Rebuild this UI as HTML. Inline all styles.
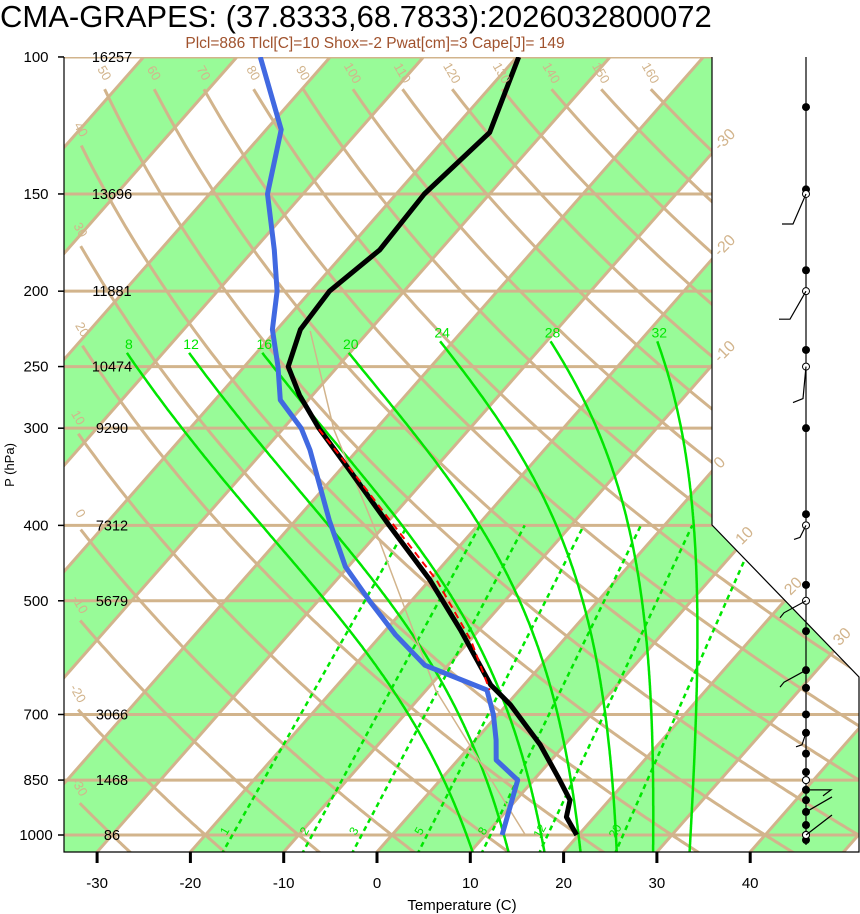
<!DOCTYPE html>
<html><head><meta charset="utf-8"><style>
html,body{margin:0;padding:0;background:#fff;}
svg{display:block;font-family:"Liberation Sans",sans-serif;}
</style></head><body>
<svg id="chart" width="860" height="914" viewBox="0 0 860 914" xmlns="http://www.w3.org/2000/svg">
<defs><clipPath id="plotclip"><polygon points="64,57 712,57 712,525 859,677 859,852 64,852"/></clipPath></defs>
<text x="0" y="27" font-size="31">CMA-GRAPES: (37.8333,68.7833):2026032800072</text>
<text x="375" y="48" font-size="15.5" fill="#a0522d" text-anchor="middle">Plcl=886 Tlcl[C]=10 Shox=-2 Pwat[cm]=3 Cape[J]= 149</text>
<g id="plot" clip-path="url(#plotclip)"></g>
<g id="over"></g>
<polyline points="64,57 64,852 859,852 859,677 712,525 712,57" fill="none" stroke="#000" stroke-width="1.2"/>
<text x="14" y="465" font-size="13" text-anchor="middle" transform="rotate(-90 14 465)">P (hPa)</text>
<text x="462" y="910" font-size="15" text-anchor="middle">Temperature (C)</text>
</svg>
<script>
// ---- data ----
const pLevels=[100,150,200,250,300,400,500,700,850,1000];
const heights=[16257,13696,11881,10474,9290,7312,5679,3066,1468,86];
const tempTicks=[-30,-20,-10,0,10,20,30,40];
const thetaVals=[-30,-20,-10,0,10,20,30,40,50,60,70,80,90,100,110,120,130,140,150,160];
const moistVals=[8,12,16,20,24,28,32];
const mixVals=[1,2,3,5,8,12,20];
const sndP=[100,125,150,177,200,224,250,272,300,340,400,470,545,641,680,766,850,902,948,1000];
const sndT=[-59.8,-55.8,-57.0,-56.5,-58.0,-57.5,-55.3,-51.4,-46.2,-38.9,-29.5,-20.0,-12.0,-3.6,0.4,7.4,12.8,15.8,17.0,19.8];
const dewP=[100,124,150,177,200,224,250,276,300,320,394,452,500,553,605,651,700,755,801,850,1000];
const dewT=[-87.5,-78.4,-73.8,-67.8,-63.6,-60.5,-56.4,-53.0,-48.1,-45.1,-36.4,-30.3,-24.5,-18.5,-12.5,-3.5,-0.5,2.2,4.1,8.3,11.8];
const parP=[301,340,400,470,562,651];
const parT=[-46.1,-38.7,-29.0,-19.3,-9.9,-3.2];
const pathP=[225,301,405,651,1000];
const pathT=[-56.3,-44.5,-30.6,-9.0,14.3];
const windDotP=[116,148,188,238,300,387,477,547,614,647,700,739,786,830,850,875,902,934,971,1000,1015];
const windOpenP=[150,200,250,400,500,850,1000];

// ---- axes ----
const NS="http://www.w3.org/2000/svg";
function yP(p){return 835-337.9*Math.log(1000/p);}
function xT(T,p){return 377+9.33*T+0.88*(852-yP(p));}
function mk(parent,tag,attrs){const e=document.createElementNS(NS,tag);for(const k in attrs)e.setAttribute(k,attrs[k]);parent.appendChild(e);return e;}
const plot=document.getElementById('plot');
const over=document.getElementById('over');
const svg=document.getElementById('chart');
const TAN="#d2b48c",GRN="#00e600";

const gBands=mk(plot,'g',{});


for(let T=-140;T<=60;T+=20){
  const pol=mk(gBands,'polygon',{points:[[xT(T,100),yP(100)],[xT(T+10,100),yP(100)],[xT(T+10,1060),yP(1060)],[xT(T,1060),yP(1060)]].map(a=>a.join(',')).join(' '),fill:'#98fb98'});
  
  
}
for(let T=-140;T<=60;T+=10){
  const l=mk(plot,'line',{x1:xT(T,100),y1:yP(100),x2:xT(T,1060),y2:yP(1060),stroke:TAN,'stroke-width':3});
  
  
}
pLevels.forEach((p,i)=>{
  const l=mk(plot,'line',{x1:64,y1:yP(p),x2:860,y2:yP(p),stroke:TAN,'stroke-width':3});
  
  
  const t=mk(svg,'text',{x:36,y:yP(p)+5,'font-size':15,'text-anchor':'middle'});t.textContent=p;
  
  
  const h=mk(svg,'text',{x:112,y:yP(p)+5,'font-size':14.5,'text-anchor':'middle'});h.textContent=heights[i];
  
  
  mk(svg,'line',{x1:58,y1:yP(p),x2:64,y2:yP(p),stroke:'#000','stroke-width':1.5});
});
thetaVals.forEach(th=>{
  let pts=[],start=null;
  for(let p=110;p<=1060;p+=5){
    const T=(th+273.15)*Math.pow(p/1000,0.2857)-273.15;
    const x=xT(T,p),y=yP(p);
    if(x<78)continue;
    if(!start)start=[x,y];
    pts.push(x.toFixed(1)+','+y.toFixed(1));
  }
  if(pts.length<2)return;
  const l=mk(plot,'polyline',{points:pts.join(' '),fill:'none',stroke:TAN,'stroke-width':3});
  
  
  if(start[0]<700){
    const lx=start[0]-4,ly=start[1]-14;
    const t=mk(svg,'text',{x:lx,y:ly,'font-size':13,fill:TAN,'text-anchor':'middle',transform:`rotate(60 ${lx} ${ly})`});t.textContent=th;
    
    
  }
});
[-30,-20,-10,0].forEach(T=>{
  const y=852-(712-377-9.33*T)/0.88;
  const t=mk(svg,'text',{x:720,y:y-2,'font-size':16,fill:TAN,transform:`rotate(-45 720 ${y-2})`});t.textContent=T;
  
  
});
[10,20,30].forEach(T=>{
  let best=null;
  for(let y=525;y<=677;y+=0.5){const xe=712+(y-525)*147/152;const xi=377+9.33*T+0.88*(852-y);if(Math.abs(xe-xi)<1){best=[xe,y];break;}}
  if(!best)return;
  const t=mk(svg,'text',{x:best[0]+6,y:best[1]-4,'font-size':16,fill:TAN,transform:`rotate(-45 ${best[0]+6} ${best[1]-4})`});t.textContent=T;
  
  
});
function es(T){return 6.112*Math.exp(17.67*T/(T+243.5));}
function slope(T,p){const Tk=T+273.15,e=es(T),rs=0.622*e/(p-e);return (287*Tk+2.5e6*rs)/(p*(1004+2.5e6*2.5e6*rs*0.622/(287*Tk*Tk)));}
moistVals.forEach(tw=>{
  let up=[],T=tw;
  const ptop=tw<=20?240:232;
  for(let p=1000;p>=ptop;p-=2){up.push([xT(T,p),yP(p)]);T-=slope(T,p)*2;}
  let dn=[];T=tw;
  for(let p=1000;p<=1060;p+=2){T+=slope(T,p)*2;dn.push([xT(T,p+2),yP(p+2)]);}
  const pts=up.reverse().concat(dn);
  const l=mk(plot,'polyline',{points:pts.map(a=>a[0].toFixed(1)+','+a[1].toFixed(1)).join(' '),fill:'none',stroke:GRN,'stroke-width':2.5});
  
  
  const t=mk(svg,'text',{x:pts[0][0]+2,y:pts[0][1]-4,'font-size':14,fill:GRN,'text-anchor':'middle'});t.textContent=tw;
  
  
});
function tdFromW(w,p){const e=w*p/(622+w);const a=Math.log(e/6.112);return 243.5*a/(17.67-a);}
mixVals.forEach(w=>{
  const l=mk(plot,'line',{x1:xT(tdFromW(w,1060),1060),y1:yP(1060),x2:xT(tdFromW(w,400),400),y2:yP(400),stroke:GRN,'stroke-width':2.5,'stroke-dasharray':'5,4'});
  
  
  const lx=xT(tdFromW(w,1000),1000)-4,ly=yP(1000)-2;
  const t=mk(svg,'text',{x:lx,y:ly,'font-size':12,fill:GRN,'text-anchor':'middle',transform:`rotate(-60 ${lx} ${ly})`});t.textContent=w;
  
  
});
function line(P,T,attrs,name){
  const pts=P.map((p,i)=>xT(T[i],p).toFixed(1)+','+yP(p).toFixed(1)).join(' ');
  const a=Object.assign({points:pts,fill:'none','stroke-linejoin':'round'},attrs);
  const l=mk(plot,'polyline',a);
  
  
}
line(pathP,pathT,{stroke:TAN,'stroke-width':1.5},'parcel-path-line');
line(dewP,dewT,{stroke:'#4169e1','stroke-width':5},'dewpoint-line');
line(sndP,sndT,{stroke:'#000','stroke-width':5},'temperature-line');
line(parP,parT,{stroke:'#f00','stroke-width':2,'stroke-dasharray':'7,5'},'parcel-line');
tempTicks.forEach(T=>{
  const x=377+9.33*T;
  mk(svg,'line',{x1:x,y1:852,x2:x,y2:863,stroke:'#000','stroke-width':3});
  const t=mk(svg,'text',{x:x,y:888,'font-size':15,'text-anchor':'middle'});t.textContent=T;
  
  
});
const wx=806;
mk(over,'line',{x1:wx,y1:57,x2:wx,y2:845,stroke:'#000','stroke-width':1.2});
windDotP.forEach(p=>{
  const c=mk(over,'circle',{cx:wx,cy:yP(p),r:4,fill:'#000'});
  
  
});
windOpenP.forEach(p=>{
  const c=mk(over,'circle',{cx:wx,cy:yP(p),r:3.5,fill:'#fff',stroke:'#000','stroke-width':1});
  
  
});
function barb(p,pts,name){
  const y=yP(p);
  const l=mk(over,'polyline',{points:pts.map(a=>(wx+a[0])+','+(y+a[1])).join(' '),fill:'none',stroke:'#000','stroke-width':1.2});
  
  
}
barb(150,[[0,0],[-13,30],[-24,30]],'wind-barb');
barb(200,[[0,0],[-16,28],[-27,28]],'wind-barb');
barb(250,[[0,0],[-3,32],[-13,36]],'wind-barb');
barb(400,[[0,0],[-6,12],[-12,14]],'wind-barb');
barb(500,[[0,0],[-22,12],[-26,17]],'wind-barb');
barb(614,[[0,0],[-22,12],[-26,17]],'wind-barb');
barb(739,[[0,0],[-4,12],[-10,14]],'wind-barb');
barb(875,[[0,0],[25,0],[17,6]],'wind-barb');
barb(934,[[0,0],[26,-15]],'wind-barb');
barb(1000,[[0,0],[26,-20]],'wind-barb');
</script>
</body></html>
